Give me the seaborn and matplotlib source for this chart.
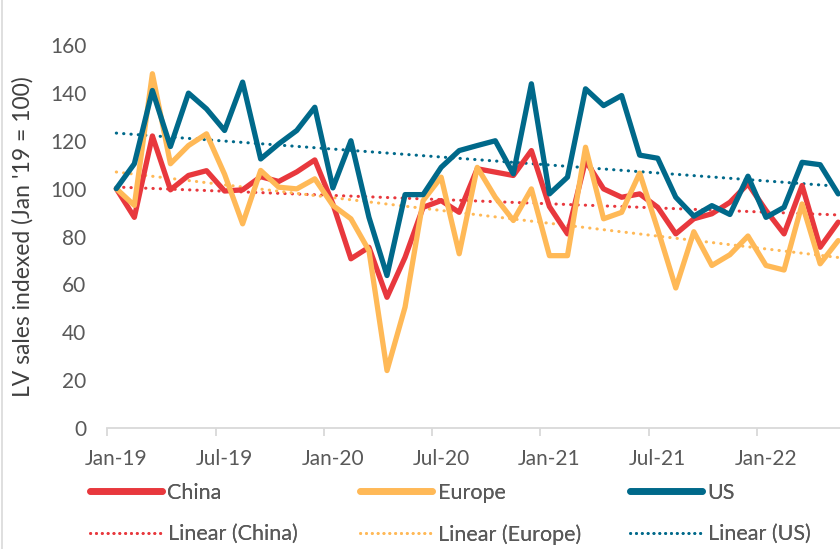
"""
LV sales indexed to Jan '19 for China, Europe and US, with linear trendlines.
"""

import matplotlib

matplotlib.use("Agg")

import matplotlib.pyplot as plt
import numpy as np
import pandas as pd
import seaborn as sns
from matplotlib.lines import Line2D
from matplotlib.ticker import FixedLocator, NullFormatter, FixedFormatter

MONTHS = pd.date_range("2019-01-01", periods=41, freq="MS").strftime("%b-%y").tolist()

CHINA = [100, 88, 122, 99.5, 105.5, 107.5, 99, 99.5, 105, 103,
         107, 112, 93.6, 70.7, 75.5, 54.6, 71.3, 92.2, 95, 90.1,
         108.3, 106.9, 105.5, 115.9, 92.5, 81.1, 111.7, 99.9, 96.4, 97.8,
         92.2, 81.1, 87.4, 89.5, 94.3, 102, 90.9, 81.1, 101.3, 75.5,
         86]
EUROPE = [100, 93, 148, 110.4, 118, 122.9, 106, 85.3, 107.6, 100.6,
          99.9, 104.1, 93, 87.4, 74.1, 24, 50.5, 95, 104.8, 72.8,
          108.9, 96.4, 86.7, 99.9, 72, 72, 117.3, 87.4, 90.1, 106.5,
          83, 58.5, 82, 67.9, 72.4, 80.2, 67.9, 66, 93.6, 68.6,
          78.3]
US = [100, 110.4, 141, 117.6, 139.9, 133.3, 124.3, 144.5, 112.4, 118.7,
      124.3, 134, 100.3, 120, 88, 63.7, 97.5, 97.5, 108.9, 115.9,
      118, 120, 106.2, 143.8, 97.8, 104.8, 141.7, 134.7, 138.9, 114,
      112.7, 96.4, 88.5, 92.9, 89.2, 105.2, 88, 92.2, 111, 110,
      97.8]

REGIONS = ["China", "Europe", "US"]
COLORS = {"China": "#E8383D", "Europe": "#FFB957", "US": "#00698A"}
Y_TICKS = [0, 20, 40, 60, 80, 100, 120, 140, 160]
LABEL_EVERY = 6

TEXT_GREY = "#595959"
AXIS_GREY = "#D9D9D9"


def build_frame() -> pd.DataFrame:
    frames = []
    for name, values in zip(REGIONS, [CHINA, EUROPE, US]):
        frames.append(pd.DataFrame({
            "idx": np.arange(len(MONTHS)),
            "month": MONTHS,
            "region": name,
            "value": values,
        }))
    return pd.concat(frames, ignore_index=True)


def main() -> None:
    sns.set_theme(style="white")
    plt.rcParams["font.family"] = ["Lato", "DejaVu Sans"]

    df = build_frame()
    n = len(MONTHS)

    fig = plt.figure(figsize=(8.4, 5.49), dpi=100)
    ax = fig.add_axes([0.1277, 0.2204, 0.8723, 0.6976])

    # trendlines first so the data lines sit on top
    for name in REGIONS:
        sub = df[df["region"] == name]
        sns.regplot(
            data=sub, x="idx", y="value", ax=ax, scatter=False, ci=None,
            truncate=True,
            line_kws={"color": COLORS[name], "linewidth": 2.2,
                      "linestyle": (0, (0.1, 2.3)), "dash_capstyle": "round"},
        )

    sns.lineplot(
        data=df, x="idx", y="value", hue="region", palette=COLORS,
        hue_order=REGIONS, linewidth=3.8, legend=False, ax=ax,
    )
    for line in ax.get_lines()[3:]:
        line.set_solid_joinstyle("round")
        line.set_solid_capstyle("round")

    ax.set_ylim(0, 160)
    ax.set_xlim(-0.5, 40.1)
    ax.set_yticks(Y_TICKS)
    ax.set_xlabel("")
    ax.set_ylabel("LV sales indexed (Jan '19 = 100)", fontsize=16.5,
                  color="#404040", labelpad=12)

    # category axis: tick marks between categories, labels on every 6th month
    bounds = np.arange(-0.5, n + LABEL_EVERY, LABEL_EVERY)
    centers = list(range(0, n, LABEL_EVERY))
    ax.xaxis.set_major_locator(FixedLocator(bounds))
    ax.xaxis.set_major_formatter(NullFormatter())
    ax.xaxis.set_minor_locator(FixedLocator(centers))
    ax.xaxis.set_minor_formatter(FixedFormatter([MONTHS[i] for i in centers]))
    ax.tick_params(axis="x", which="major", direction="out", length=6,
                   width=1.3, color=AXIS_GREY, bottom=True)
    ax.tick_params(axis="x", which="minor", length=0, pad=15,
                   labelsize=15, labelcolor=TEXT_GREY, bottom=True)
    ax.tick_params(axis="y", length=0, pad=15, labelsize=15,
                   labelcolor=TEXT_GREY)

    for side in ["left", "right", "top"]:
        ax.spines[side].set_visible(False)
    ax.spines["bottom"].set_color(AXIS_GREY)
    ax.spines["bottom"].set_linewidth(1.3)
    ax.grid(False)

    # one legend per column, like the Excel layout
    col_x = [90 / 840, 360 / 840, 630 / 840]
    for name, x0 in zip(REGIONS, col_x):
        handles = [
            Line2D([], [], color=COLORS[name], linewidth=4.8,
                   solid_capstyle="round"),
            Line2D([], [], color=COLORS[name], linewidth=2,
                   linestyle=(0, (0.1, 2.0)), dash_capstyle="round"),
        ]
        leg = fig.legend(
            handles, [name, f"Linear ({name})"], loc="upper left",
            bbox_to_anchor=(x0, 0.121), frameon=False, borderpad=0,
            borderaxespad=0, handlelength=3.35, handletextpad=0.25,
            labelspacing=1.0, fontsize=15.5, labelcolor=TEXT_GREY,
        )
        fig.add_artist(leg)

    # thin chart-area border on the left edge
    fig.add_artist(Line2D([0.002, 0.002], [0, 1], color=AXIS_GREY,
                          linewidth=1.2, transform=fig.transFigure))

    fig.savefig("out.png", dpi=100)
    plt.close(fig)


if __name__ == "__main__":
    main()
